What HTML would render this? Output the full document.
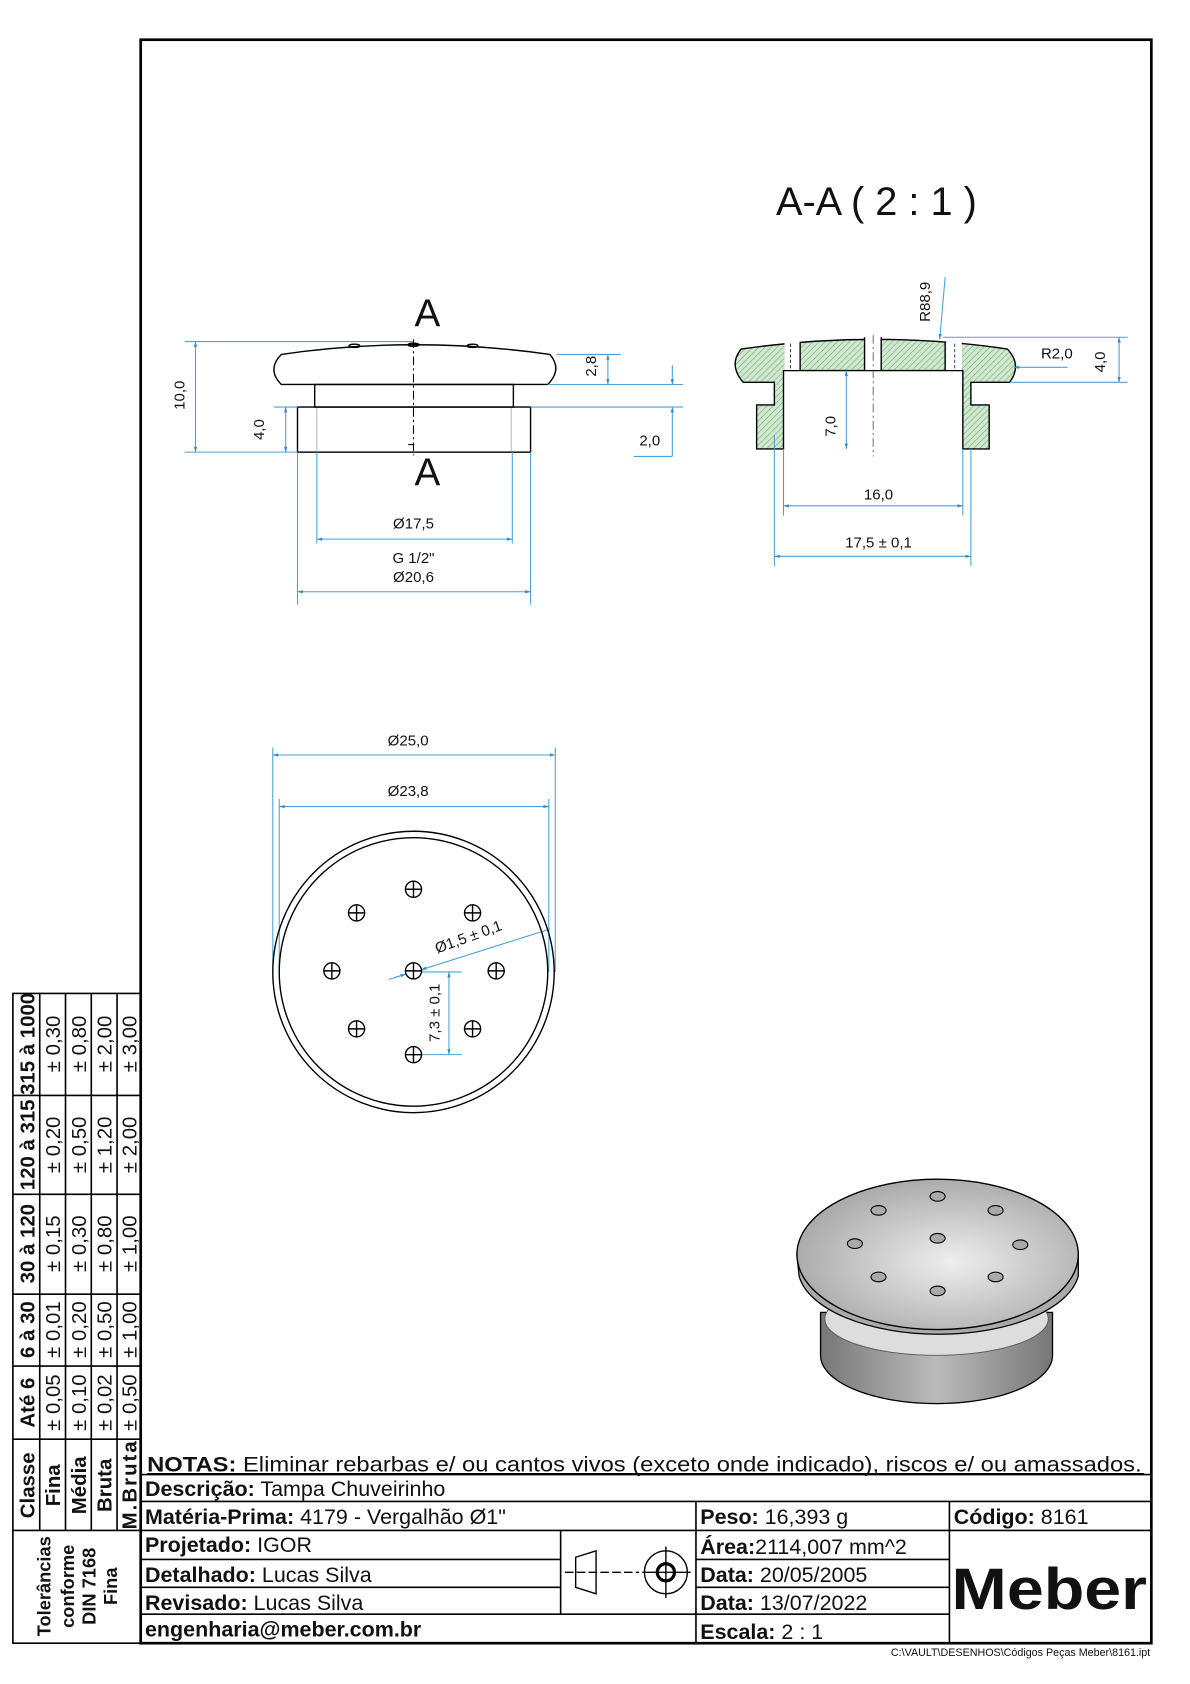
<!DOCTYPE html>
<html><head><meta charset="utf-8"><style>
html,body{margin:0;padding:0;background:#fff}
svg{display:block}
text{font-family:"Liberation Sans",sans-serif;fill:#111}
.d{stroke:#4aa3d6;stroke-width:1;fill:none}
.k{stroke:#000;stroke-width:1.3;fill:none}
.b{font-weight:bold}
</style></head><body>
<svg width="1190" height="1684" viewBox="0 0 1108 1568" preserveAspectRatio="none" xmlns="http://www.w3.org/2000/svg">
<defs>
<pattern id="h" width="4" height="4" patternUnits="userSpaceOnUse" patternTransform="rotate(45)">
<rect width="4" height="4" fill="#cfe8cf"/><line x1="0" y1="0" x2="0" y2="4" stroke="#6aa86a" stroke-width="1"/>
</pattern>
<marker id="a" viewBox="0 0 10 10" refX="10" refY="5" markerWidth="7" markerHeight="5" orient="auto-start-reverse"><path d="M0,2 L10,5 L0,8z" fill="#2a8cc8"/></marker>
<radialGradient id="g1" cx="0.55" cy="0.55" r="0.7"><stop offset="0" stop-color="#eee"/><stop offset="1" stop-color="#9a9a9a"/></radialGradient>
<linearGradient id="g2" x1="0" y1="0" x2="1" y2="0"><stop offset="0" stop-color="#777"/><stop offset="0.5" stop-color="#bbb"/><stop offset="1" stop-color="#777"/></linearGradient>
</defs>
<rect x="0" y="0" width="1108" height="1568" fill="#fff"/>
<rect x="131" y="37" width="941" height="1493" fill="none" stroke="#000" stroke-width="2.5"/>

<!-- FRONT VIEW -->
<text x="398" y="304" font-size="36" text-anchor="middle">A</text>
<text x="398" y="452" font-size="36" text-anchor="middle">A</text>
<path class="k" d="M262,330 Q385,312 512,330 Q524,344 510,358 L262,358 Q248,344 262,330Z"/>
<rect class="k" x="293" y="358" width="185" height="21"/>
<rect class="k" x="277" y="379" width="217" height="42"/>
<line x1="295" y1="380" x2="295" y2="420" stroke="#bbb"/><line x1="476" y1="380" x2="476" y2="420" stroke="#bbb"/>
<line x1="385" y1="316" x2="385" y2="424" stroke="#000" stroke-dasharray="8,3,2,3"/>
<ellipse cx="330" cy="322" rx="5" ry="1.5" class="k"/><ellipse cx="440" cy="322" rx="5" ry="1.5" class="k"/><ellipse cx="385" cy="321" rx="5" ry="1.5" class="k"/>
<line x1="380" y1="414" x2="385" y2="414" stroke="#000"/>
<g class="d">
<line x1="172" y1="318" x2="385" y2="318"/><line x1="172" y1="421" x2="277" y2="421"/>
<line x1="182" y1="318" x2="182" y2="421" marker-start="url(#a)" marker-end="url(#a)"/>
<line x1="255" y1="379" x2="277" y2="379"/>
<line x1="266" y1="379" x2="266" y2="421" marker-start="url(#a)" marker-end="url(#a)"/>
<line x1="518" y1="330" x2="578" y2="330"/><line x1="510" y1="358" x2="636" y2="358"/><line x1="494" y1="379" x2="636" y2="379"/>
<line x1="566" y1="330" x2="566" y2="358" marker-start="url(#a)" marker-end="url(#a)"/>
<line x1="626" y1="340" x2="626" y2="358" marker-end="url(#a)"/><line x1="626" y1="425" x2="626" y2="379" marker-end="url(#a)"/>
<line x1="590" y1="425" x2="626" y2="425"/>
<line x1="295" y1="421" x2="295" y2="506"/><line x1="477" y1="421" x2="477" y2="506"/>
<line x1="295" y1="502" x2="477" y2="502" marker-start="url(#a)" marker-end="url(#a)"/>
<line x1="277" y1="421" x2="277" y2="563"/><line x1="494" y1="421" x2="494" y2="563"/>
<line x1="277" y1="551" x2="494" y2="551" marker-start="url(#a)" marker-end="url(#a)"/>
</g>
<text font-size="14" transform="rotate(-90 172 368)" x="172" y="368" text-anchor="middle">10,0</text>
<text font-size="14" transform="rotate(-90 246 400)" x="246" y="400" text-anchor="middle">4,0</text>
<text font-size="14" transform="rotate(-90 555 341)" x="555" y="341" text-anchor="middle">2,8</text>
<text font-size="14" x="605" y="415" text-anchor="middle">2,0</text>
<text font-size="14" x="385" y="492" text-anchor="middle">Ø17,5</text>
<text font-size="14" x="385" y="524" text-anchor="middle">G 1/2"</text>
<text font-size="14" x="385" y="542" text-anchor="middle">Ø20,6</text>

<!-- SECTION A-A -->
<text x="816" y="200" font-size="37" text-anchor="middle">A-A ( 2 : 1 )</text>
<path d="M690,325 Q815,307 938,325 Q952,340 940,356 L904,356 L904,377 L921,377 L921,418 L896.5,418 L896.5,345 L729.5,345 L729.5,418 L704.5,418 L704.5,377 L721,377 L721,356 L692,356 Q678,340 690,325Z" fill="url(#h)" stroke="#000" stroke-width="1.3"/>
<rect x="730.5" y="318" width="14" height="26.5" fill="#fff"/>
<rect x="805" y="313" width="15.5" height="31.5" fill="#fff"/>
<rect x="881" y="318" width="14.5" height="26.5" fill="#fff"/>
<g class="k" stroke-width="1">
<line x1="745" y1="319" x2="745" y2="345"/><line x1="805" y1="314" x2="805" y2="345"/><line x1="820.5" y1="314" x2="820.5" y2="345"/><line x1="880" y1="319" x2="880" y2="345"/>
</g>
<line x1="736" y1="320" x2="736" y2="345" stroke="#000" stroke-dasharray="3,2" stroke-width="0.7"/>
<line x1="889" y1="320" x2="889" y2="345" stroke="#000" stroke-dasharray="3,2" stroke-width="0.7"/>
<line x1="813" y1="312" x2="813" y2="425" stroke="#555" stroke-dasharray="8,3,2,3" stroke-width="0.8"/>
<g class="d">
<line x1="880" y1="258" x2="875" y2="316" marker-end="url(#a)"/>
<line x1="994" y1="342" x2="944" y2="342" marker-end="url(#a)"/>
<line x1="878" y1="314" x2="1050" y2="314"/><line x1="940" y1="356" x2="1050" y2="356"/>
<line x1="1042" y1="314" x2="1042" y2="356" marker-start="url(#a)" marker-end="url(#a)"/>
<line x1="788" y1="345" x2="788" y2="418" marker-start="url(#a)" marker-end="url(#a)"/>
<line x1="729.5" y1="418" x2="729.5" y2="480"/><line x1="896.5" y1="418" x2="896.5" y2="480"/>
<line x1="729.5" y1="471" x2="896.5" y2="471" marker-start="url(#a)" marker-end="url(#a)"/>
<line x1="721" y1="405" x2="721" y2="527"/><line x1="904" y1="418" x2="904" y2="527"/>
<line x1="721" y1="518" x2="904" y2="518" marker-start="url(#a)" marker-end="url(#a)"/>
</g>
<text font-size="14" transform="rotate(-90 866 281)" x="866" y="281" text-anchor="middle">R88,9</text>
<text font-size="14" x="984" y="334" text-anchor="middle">R2,0</text>
<text font-size="14" transform="rotate(-90 1029 337)" x="1029" y="337" text-anchor="middle">4,0</text>
<text font-size="14" transform="rotate(-90 778 397)" x="778" y="397" text-anchor="middle">7,0</text>
<text font-size="14" x="818" y="465" text-anchor="middle">16,0</text>
<text font-size="14" x="818" y="510" text-anchor="middle">17,5 ± 0,1</text>

<!-- TOP VIEW -->
<g class="d">
<line x1="254" y1="696" x2="254" y2="905"/><line x1="517" y1="696" x2="517" y2="905"/>
<line x1="254" y1="703" x2="517" y2="703" marker-start="url(#a)" marker-end="url(#a)"/>
<line x1="260" y1="744" x2="260" y2="905"/><line x1="511" y1="744" x2="511" y2="905"/>
<line x1="260" y1="751" x2="511" y2="751" marker-start="url(#a)" marker-end="url(#a)"/>
<line x1="392" y1="905" x2="430" y2="905"/><line x1="392" y1="982" x2="430" y2="982"/>
<line x1="418" y1="905" x2="418" y2="982" marker-start="url(#a)" marker-end="url(#a)"/>
<line x1="362" y1="912" x2="378" y2="907" /><line x1="368" y1="910" x2="378" y2="907" marker-end="url(#a)"/>
<line x1="512" y1="865" x2="392" y2="903" marker-end="url(#a)"/>
</g>
<text font-size="14" x="380" y="694" text-anchor="middle">Ø25,0</text>
<text font-size="14" x="380" y="741" text-anchor="middle">Ø23,8</text>
<text font-size="14" transform="rotate(-20 436 872)" x="436" y="877" text-anchor="middle">Ø1,5 ± 0,1</text>
<text font-size="14" transform="rotate(-90 409 943)" x="409" y="943" text-anchor="middle">7,3 ± 0,1</text>
<circle cx="385" cy="905" r="131" class="k"/>
<circle cx="385" cy="905" r="125" class="k" stroke-width="1"/>
<g class="k" stroke-width="1">
<circle cx="385" cy="828" r="7.5"/><path d="M377.5,828h15M385,820.5v15"/>
<circle cx="332" cy="850" r="7.5"/><path d="M324.5,850h15M332,842.5v15"/>
<circle cx="440" cy="850" r="7.5"/><path d="M432.5,850h15M440,842.5v15"/>
<circle cx="309" cy="904" r="7.5"/><path d="M301.5,904h15M309,896.5v15"/>
<circle cx="385" cy="904" r="7.5"/><path d="M377.5,904h15M385,896.5v15"/>
<circle cx="462" cy="904" r="7.5"/><path d="M454.5,904h15M462,896.5v15"/>
<circle cx="332" cy="958" r="7.5"/><path d="M324.5,958h15M332,950.5v15"/>
<circle cx="440" cy="958" r="7.5"/><path d="M432.5,958h15M440,950.5v15"/>
<circle cx="385" cy="982" r="7.5"/><path d="M377.5,982h15M385,974.5v15"/>
</g>

<!-- ISO VIEW -->
<path d="M764,1222 L764,1262 A108,45 0 0 0 980,1262 L980,1222Z" fill="url(#g2)" stroke="#000" stroke-width="1.2"/>
<ellipse cx="872" cy="1228" rx="104" ry="34" fill="#ddd" stroke="#555" stroke-width="0.8"/>
<path d="M742,1168 L744,1188 A131,62 0 0 0 1004,1188 L1004,1168Z" fill="#aaa" stroke="#000" stroke-width="1.2"/>
<ellipse cx="873" cy="1168" rx="131" ry="70" fill="url(#g1)" stroke="#000" stroke-width="1.3"/>
<g fill="#aaa" stroke="#000" stroke-width="1">
<ellipse cx="873" cy="1114" rx="7" ry="4.5"/><ellipse cx="818" cy="1127" rx="7" ry="4.5"/><ellipse cx="927" cy="1127" rx="7" ry="4.5"/>
<ellipse cx="796" cy="1158" rx="7" ry="4.5"/><ellipse cx="873" cy="1153" rx="7" ry="4.5"/><ellipse cx="950" cy="1159" rx="7" ry="4.5"/>
<ellipse cx="818" cy="1189" rx="7" ry="4.5"/><ellipse cx="927" cy="1189" rx="7" ry="4.5"/><ellipse cx="873" cy="1202" rx="7" ry="4.5"/>
</g>

<!-- TOLERANCE TABLE -->
<g stroke="#000" stroke-width="1.5" fill="none">
<rect x="12" y="925" width="119" height="605"/>
<line x1="37" y1="925" x2="37" y2="1425"/><line x1="61" y1="925" x2="61" y2="1425"/><line x1="85" y1="925" x2="85" y2="1425"/><line x1="109" y1="925" x2="109" y2="1425"/>
<line x1="12" y1="1020" x2="131" y2="1020"/><line x1="12" y1="1112" x2="131" y2="1112"/><line x1="12" y1="1205" x2="131" y2="1205"/><line x1="12" y1="1272" x2="131" y2="1272"/><line x1="12" y1="1340" x2="131" y2="1340"/><line x1="12" y1="1425" x2="131" y2="1425"/>
</g>
<g font-size="19">
<g class="b">
<text transform="rotate(-90 32 972)" x="32" y="972" text-anchor="middle">315 à 1000</text>
<text transform="rotate(-90 32 1066)" x="32" y="1066" text-anchor="middle">120 à 315</text>
<text transform="rotate(-90 32 1158)" x="32" y="1158" text-anchor="middle">30 à 120</text>
<text transform="rotate(-90 32 1238)" x="32" y="1238" text-anchor="middle">6 à 30</text>
<text transform="rotate(-90 32 1306)" x="32" y="1306" text-anchor="middle">Até 6</text>
<text transform="rotate(-90 32 1383)" x="32" y="1383" text-anchor="middle">Classe</text>
<text transform="rotate(-90 56 1383)" x="56" y="1383" text-anchor="middle">Fina</text>
<text transform="rotate(-90 80 1383)" x="80" y="1383" text-anchor="middle">Média</text>
<text transform="rotate(-90 104 1383)" x="104" y="1383" text-anchor="middle">Bruta</text>
<text transform="rotate(-90 127 1383)" x="127" y="1383" text-anchor="middle" textLength="82">M.Bruta</text>
</g>
<text transform="rotate(-90 56 972)" x="56" y="972" text-anchor="middle">± 0,30</text>
<text transform="rotate(-90 56 1066)" x="56" y="1066" text-anchor="middle">± 0,20</text>
<text transform="rotate(-90 56 1158)" x="56" y="1158" text-anchor="middle">± 0,15</text>
<text transform="rotate(-90 56 1238)" x="56" y="1238" text-anchor="middle">± 0,01</text>
<text transform="rotate(-90 56 1306)" x="56" y="1306" text-anchor="middle">± 0,05</text>
<text transform="rotate(-90 80 972)" x="80" y="972" text-anchor="middle">± 0,80</text>
<text transform="rotate(-90 80 1066)" x="80" y="1066" text-anchor="middle">± 0,50</text>
<text transform="rotate(-90 80 1158)" x="80" y="1158" text-anchor="middle">± 0,30</text>
<text transform="rotate(-90 80 1238)" x="80" y="1238" text-anchor="middle">± 0,20</text>
<text transform="rotate(-90 80 1306)" x="80" y="1306" text-anchor="middle">± 0,10</text>
<text transform="rotate(-90 104 972)" x="104" y="972" text-anchor="middle">± 2,00</text>
<text transform="rotate(-90 104 1066)" x="104" y="1066" text-anchor="middle">± 1,20</text>
<text transform="rotate(-90 104 1158)" x="104" y="1158" text-anchor="middle">± 0,80</text>
<text transform="rotate(-90 104 1238)" x="104" y="1238" text-anchor="middle">± 0,50</text>
<text transform="rotate(-90 104 1306)" x="104" y="1306" text-anchor="middle">± 0,02</text>
<text transform="rotate(-90 127 972)" x="127" y="972" text-anchor="middle">± 3,00</text>
<text transform="rotate(-90 127 1066)" x="127" y="1066" text-anchor="middle">± 2,00</text>
<text transform="rotate(-90 127 1158)" x="127" y="1158" text-anchor="middle">± 1,00</text>
<text transform="rotate(-90 127 1238)" x="127" y="1238" text-anchor="middle">± 1,00</text>
<text transform="rotate(-90 127 1306)" x="127" y="1306" text-anchor="middle">± 0,50</text>
<g class="b" font-size="17">
<text transform="rotate(-90 47 1477)" x="47" y="1477" text-anchor="middle">Tolerâncias</text>
<text transform="rotate(-90 69 1477)" x="69" y="1477" text-anchor="middle">conforme</text>
<text transform="rotate(-90 89 1477)" x="89" y="1477" text-anchor="middle">DIN 7168</text>
<text transform="rotate(-90 109 1477)" x="109" y="1477" text-anchor="middle">Fina</text>
</g>
</g>

<!-- TITLE BLOCK -->
<g stroke="#000" stroke-width="1.5">
<line x1="131" y1="1373" x2="1072" y2="1373"/>
<line x1="131" y1="1398" x2="1072" y2="1398"/>
<line x1="131" y1="1425" x2="1072" y2="1425"/>
<line x1="131" y1="1452" x2="522" y2="1452"/><line x1="648" y1="1452" x2="884" y2="1452"/>
<line x1="131" y1="1478" x2="522" y2="1478"/><line x1="648" y1="1478" x2="884" y2="1478"/>
<line x1="131" y1="1503" x2="884" y2="1503"/>
<line x1="648" y1="1398" x2="648" y2="1530"/><line x1="884" y1="1398" x2="884" y2="1530"/>
<line x1="522" y1="1425" x2="522" y2="1503"/>
</g>
<g font-size="20">
<text x="137" y="1370" textLength="926" lengthAdjust="spacingAndGlyphs"><tspan class="b">NOTAS:</tspan> Eliminar rebarbas e/ ou cantos vivos (exceto onde indicado), riscos e/ ou amassados.</text>
<line x1="137" y1="1372" x2="1065" y2="1372" stroke="#000" stroke-width="1"/>
<text x="135" y="1393"><tspan class="b">Descrição:</tspan> Tampa Chuveirinho</text>
<text x="135" y="1419"><tspan class="b">Matéria-Prima:</tspan> 4179 - Vergalhão Ø1"</text>
<text x="652" y="1419"><tspan class="b">Peso:</tspan> 16,393 g</text>
<text x="888" y="1419"><tspan class="b">Código:</tspan> 8161</text>
<text x="135" y="1445"><tspan class="b">Projetado:</tspan> IGOR</text>
<text x="135" y="1473"><tspan class="b">Detalhado:</tspan> Lucas Silva</text>
<text x="135" y="1499"><tspan class="b">Revisado:</tspan> Lucas Silva</text>
<text x="135" y="1524" class="b">engenharia@meber.com.br</text>
<text x="652" y="1447"><tspan class="b">Área:</tspan>2114,007 mm^2</text>
<text x="652" y="1473"><tspan class="b">Data:</tspan> 20/05/2005</text>
<text x="652" y="1499"><tspan class="b">Data:</tspan> 13/07/2022</text>
<text x="652" y="1526"><tspan class="b">Escala:</tspan> 2 : 1</text>
</g>
<text x="886" y="1498" font-size="54" class="b" textLength="182" lengthAdjust="spacingAndGlyphs">Meber</text>
<g stroke="#000" stroke-width="1.3" fill="none">
<path d="M536,1450 L555,1444 L555,1484 L536,1478Z"/>
<line x1="526" y1="1464" x2="595" y2="1464" stroke-dasharray="8,3"/>
<circle cx="620" cy="1464" r="20"/><circle cx="620" cy="1464" r="8" stroke-width="3"/>
<line x1="598" y1="1464" x2="643" y2="1464"/><line x1="620" y1="1440" x2="620" y2="1488"/>
</g>
<text x="1071" y="1542" font-size="10" text-anchor="end">C:\VAULT\DESENHOS\Códigos Peças Meber\8161.ipt</text>
</svg>
</body></html>
